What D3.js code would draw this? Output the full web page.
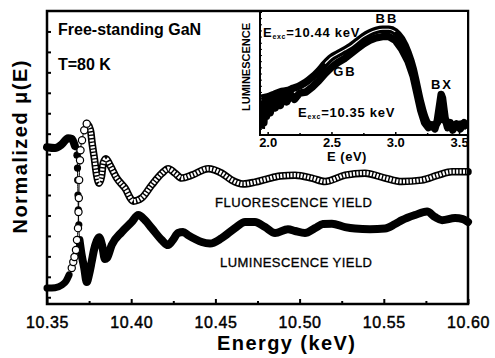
<!DOCTYPE html>
<html>
<head>
<meta charset="utf-8">
<script src="https://cdn.jsdelivr.net/npm/d3@7"></script>
<style>
  body { margin: 0; background: #fff; }
  svg { display: block; }
  text { font-family: "Liberation Sans", Arial, Helvetica, sans-serif; fill: #000; }
</style>
</head>
<body>
<script>
// fluorescence yield [energy keV, normalized mu]
const fyData = [
  [10.3500,0.045],[10.3548,0.047],[10.3589,0.060],[10.3613,0.079],[10.3631,0.109],
  [10.3647,0.143],[10.3656,0.172],[10.3663,0.197],[10.3672,0.231],[10.3678,0.280],
  [10.3684,0.338],[10.3687,0.417],[10.3689,0.485],[10.3691,0.573],[10.3696,0.670],
  [10.3699,0.719],[10.3708,0.768],[10.3721,0.817],[10.3736,0.849],[10.3749,0.837],
  [10.3761,0.803],[10.3767,0.759],[10.3781,0.681],[10.3795,0.597],[10.3809,0.558],
  [10.3824,0.593],[10.3834,0.656],[10.3850,0.678],[10.3874,0.646],[10.3914,0.583],
  [10.3963,0.534],[10.4013,0.470],[10.4062,0.485],[10.4122,0.549],[10.4181,0.605],
  [10.4220,0.629],[10.4260,0.607],[10.4300,0.583],[10.4359,0.597],[10.4458,0.629],
  [10.4537,0.607],[10.4597,0.573],[10.4664,0.554],[10.4735,0.563],[10.4805,0.578],
  [10.4884,0.593],[10.4973,0.597],[10.5072,0.583],[10.5151,0.566],[10.5270,0.597],
  [10.5388,0.607],[10.5507,0.583],[10.5606,0.566],[10.5725,0.573],[10.5822,0.597],
  [10.5905,0.614],[10.6000,0.614]
];

// luminescence yield [energy keV, normalized mu]
const lyData = [
  [10.3500,0.734],[10.3548,0.730],[10.3589,0.749],[10.3625,0.778],[10.3648,0.774],
  [10.3666,0.739],[10.3678,0.695],[10.3681,0.632],[10.3682,0.573],[10.3684,0.500],
  [10.3686,0.427],[10.3689,0.354],[10.3693,0.280],[10.3706,0.206],[10.3721,0.143],
  [10.3736,0.074],[10.3749,0.109],[10.3765,0.172],[10.3779,0.231],[10.3795,0.275],
  [10.3809,0.294],[10.3827,0.255],[10.3844,0.187],[10.3856,0.192],[10.3884,0.255],
  [10.3944,0.319],[10.4003,0.368],[10.4042,0.402],[10.4082,0.377],[10.4122,0.338],
  [10.4181,0.280],[10.4219,0.255],[10.4248,0.280],[10.4278,0.314],[10.4308,0.319],
  [10.4337,0.304],[10.4379,0.285],[10.4419,0.270],[10.4468,0.263],[10.4537,0.289],
  [10.4616,0.338],[10.4676,0.368],[10.4735,0.368],[10.4795,0.343],[10.4854,0.314],
  [10.4931,0.333],[10.4973,0.324],[10.5032,0.314],[10.5091,0.338],[10.5139,0.358],
  [10.5192,0.360],[10.5270,0.343],[10.5329,0.336],[10.5418,0.333],[10.5507,0.336],
  [10.5567,0.358],[10.5608,0.377],[10.5685,0.402],[10.5757,0.419],[10.5804,0.392],
  [10.5846,0.377],[10.5923,0.387],[10.5970,0.382],[10.6000,0.368]
];

// inset: luminescence spectra [photon energy eV, intensity]
const spec1044 = [
  [1.95,0.30],[2.00,0.31],[2.05,0.33],[2.10,0.35],[2.15,0.36],[2.20,0.38],[2.25,0.40],
  [2.30,0.43],[2.35,0.47],[2.40,0.52],[2.45,0.58],[2.50,0.63],[2.55,0.66],[2.60,0.69],
  [2.65,0.72],[2.70,0.76],[2.75,0.80],[2.80,0.83],[2.85,0.85],[2.90,0.86],[2.95,0.86],
  [3.00,0.84],[3.05,0.78],[3.10,0.67],[3.14,0.54],[3.17,0.40],[3.20,0.26],[3.23,0.15],
  [3.26,0.09],[3.30,0.08],[3.33,0.10],[3.36,0.16],[3.38,0.13],[3.42,0.09],[3.47,0.08],
  [3.52,0.09],[3.57,0.08]
];
const spec1035 = [
  [1.95,0.05],[1.96,0.25],[1.97,0.10],[1.98,0.28],[1.99,0.15],[2.00,0.27],[2.02,0.18],
  [2.04,0.30],[2.06,0.22],[2.08,0.31],[2.10,0.24],[2.12,0.33],[2.15,0.27],[2.18,0.33],
  [2.21,0.29],[2.25,0.34],[2.30,0.35],[2.35,0.39],[2.40,0.44],[2.45,0.50],[2.50,0.55],
  [2.55,0.59],[2.60,0.62],[2.65,0.66],[2.70,0.70],[2.75,0.74],[2.80,0.77],[2.85,0.79],
  [2.90,0.80],[2.95,0.80],[3.00,0.77],[3.05,0.70],[3.10,0.60],[3.14,0.48],[3.17,0.34],
  [3.20,0.20],[3.23,0.10],[3.26,0.06],[3.29,0.08],[3.31,0.05],[3.33,0.12],[3.35,0.26],
  [3.36,0.33],[3.37,0.30],[3.38,0.22],[3.39,0.14],[3.41,0.06],[3.43,0.10],[3.45,0.04],
  [3.48,0.09],[3.51,0.05],[3.54,0.10],[3.57,0.06]
];

const xTicks = [10.35, 10.40, 10.45, 10.50, 10.55, 10.60];
const xMinor = [10.375, 10.425, 10.475, 10.525, 10.575];
const yTicks = [0,0.1,0.2,0.3,0.4,0.5,0.6,0.7,0.8,0.9,1.0,1.1,1.2,1.3];
const insetXTicks = [2.0, 2.5, 3.0, 3.5];
const insetXMinor = [2.25, 2.75, 3.25];

const W = 495, H = 358;
const mLeft = 47, mRight = 468, mTop = 11, mBottom = 304;

const svg = d3.select("body").append("svg")
  .attr("width", W).attr("height", H);

const x = d3.scaleLinear().domain([10.35, 10.60]).range([mLeft, mRight]);
const y = d3.scaleLinear().domain([-0.033, 1.4]).range([mBottom, mTop]);

// --- main curves ---
const line = d3.line().curve(d3.curveMonotoneX).x(d => x(d[0])).y(d => y(d[1]));

// luminescence yield: thick solid, thin line + dots on the steep edge
svg.append("path").datum(lyData)
  .attr("fill", "none").attr("stroke", "#000").attr("stroke-width", 1)
  .attr("d", line);
[lyData.filter(d => d[0] <= 10.3666), lyData.filter(d => d[0] >= 10.3693)].forEach(seg => {
  svg.append("path").datum(seg)
    .attr("fill", "none").attr("stroke", "#000").attr("stroke-width", 8)
    .attr("stroke-linejoin", "round").attr("stroke-linecap", "round")
    .attr("d", line);
});
svg.selectAll(".lydot")
  .data(lyData.filter(d => d[0] > 10.3666 && d[0] < 10.3693))
  .enter().append("circle")
  .attr("cx", d => x(d[0])).attr("cy", d => y(d[1])).attr("r", 3.6)
  .attr("fill", "#000");

// fluorescence yield: open circle chain
svg.append("path").datum(fyData)
  .attr("fill", "none").attr("stroke", "#000").attr("stroke-width", 1)
  .attr("d", line);
svg.append("path").datum(fyData.filter(d => d[0] <= 10.3631))
  .attr("fill", "none").attr("stroke", "#000").attr("stroke-width", 7)
  .attr("stroke-linejoin", "round").attr("stroke-linecap", "round")
  .attr("d", line);
const fyPost = fyData.filter(d => d[0] >= 10.3736);
svg.append("path").datum(fyPost)
  .attr("fill", "none").attr("stroke", "#000").attr("stroke-width", 7.5)
  .attr("stroke-linejoin", "round").attr("stroke-linecap", "round")
  .attr("d", line);
svg.append("path").datum(fyPost)
  .attr("fill", "none").attr("stroke", "#fff").attr("stroke-width", 4.2)
  .attr("stroke-dasharray", "2,1.4")
  .attr("stroke-linejoin", "round")
  .attr("d", line);
svg.selectAll(".fydot")
  .data(fyData.filter(d => d[0] > 10.3631 && d[0] <= 10.3736))
  .enter().append("circle")
  .attr("cx", d => x(d[0])).attr("cy", d => y(d[1])).attr("r", 3.6)
  .attr("fill", "#fff").attr("stroke", "#000").attr("stroke-width", 1.2);

// --- axes ---
svg.append("g")
  .attr("transform", "translate(0," + mBottom + ")")
  .call(d3.axisBottom(x).tickValues(xMinor).tickSize(-3).tickFormat(""))
  .call(g => g.select(".domain").remove())
  .call(g => g.selectAll("line").attr("stroke-width", 2));

const xAxis = svg.append("g")
  .attr("transform", "translate(0," + mBottom + ")")
  .call(d3.axisBottom(x).tickValues(xTicks).tickSize(-5).tickPadding(9)
    .tickFormat(d3.format(".2f")));
xAxis.select(".domain").remove();
xAxis.selectAll("line").attr("stroke-width", 2);
xAxis.selectAll("text")
  .style("font-size", "16px").attr("letter-spacing", "0.6px")
  .attr("stroke", "#000").attr("stroke-width", 0.45)
  .attr("dy", "0.95em");

const yAxis = svg.append("g")
  .attr("transform", "translate(" + mLeft + ",0)")
  .call(d3.axisLeft(y).tickValues(yTicks).tickSize(-4).tickFormat(""));
yAxis.select(".domain").remove();
yAxis.selectAll("line").attr("stroke-width", 2);

// frame
svg.append("rect")
  .attr("x", mLeft).attr("y", mTop)
  .attr("width", mRight - mLeft).attr("height", mBottom - mTop)
  .attr("fill", "none").attr("stroke", "#000").attr("stroke-width", 2.5);

// axis titles
svg.append("text")
  .attr("x", 286).attr("y", 350)
  .attr("text-anchor", "middle")
  .style("font-size", "20px").style("font-weight", "bold")
  .attr("textLength", 138).attr("lengthAdjust", "spacing")
  .text("Energy (keV)");

svg.append("text")
  .attr("transform", "translate(27,147) rotate(-90)")
  .attr("text-anchor", "middle")
  .style("font-size", "20px").style("font-weight", "bold")
  .attr("textLength", 173).attr("lengthAdjust", "spacing")
  .text("Normalized \u03bc(E)");

// annotations
svg.append("text").attr("x", 58).attr("y", 35)
  .style("font-size", "16px").style("font-weight", "bold")
  .text("Free-standing GaN");
svg.append("text").attr("x", 58).attr("y", 70)
  .style("font-size", "16px").style("font-weight", "bold")
  .text("T=80 K");
svg.append("text").attr("x", 215).attr("y", 207)
  .style("font-size", "13px")
  .attr("stroke", "#000").attr("stroke-width", 0.3)
  .attr("textLength", 157).attr("lengthAdjust", "spacing")
  .text("FLUORESCENCE YIELD");
svg.append("text").attr("x", 220).attr("y", 267)
  .style("font-size", "13px")
  .attr("stroke", "#000").attr("stroke-width", 0.3)
  .attr("textLength", 152).attr("lengthAdjust", "spacing")
  .text("LUMINESCENCE YIELD");

// --- inset ---
const iL = 260, iR = 468, iT = 11, iB = 135;
const ix = d3.scaleLinear().domain([1.94, 3.57]).range([iL, iR]);
const iy = d3.scaleLinear().domain([0, 1]).range([iB, iT + 1]);
const inset = svg.append("g");

inset.append("rect")
  .attr("x", iL).attr("y", iT).attr("width", iR - iL).attr("height", iB - iT)
  .attr("fill", "#fff");

svg.append("clipPath").attr("id", "insetClip")
  .append("rect").attr("x", iL).attr("y", iT).attr("width", iR - iL).attr("height", iB - iT);

const iline = d3.line().x(d => ix(d[0])).y(d => iy(d[1]));
const ilineSmooth = d3.line().curve(d3.curveMonotoneX).x(d => ix(d[0])).y(d => iy(d[1]));
const curves = inset.append("g").attr("clip-path", "url(#insetClip)");
curves.append("path").datum(spec1035)
  .attr("fill", "none").attr("stroke", "#000").attr("stroke-width", 7.5)
  .attr("stroke-linejoin", "round").attr("d", iline);
curves.append("path").datum(spec1044)
  .attr("fill", "none").attr("stroke", "#000").attr("stroke-width", 7.5)
  .attr("stroke-linejoin", "round").attr("d", ilineSmooth);
curves.append("path").datum(spec1044.filter(d => d[0] >= 2.45 && d[0] <= 3.02))
  .attr("fill", "none").attr("stroke", "#fff").attr("stroke-width", 1.1)
  .attr("d", ilineSmooth);

const ixAxis = inset.append("g")
  .attr("transform", "translate(0," + iB + ")")
  .call(d3.axisBottom(ix).tickValues(insetXTicks).tickSize(-3).tickPadding(3)
    .tickFormat(d3.format(".1f")));
ixAxis.select(".domain").remove();
ixAxis.selectAll("line").attr("stroke-width", 1.5);
ixAxis.selectAll("text")
  .style("font-size", "13px").style("font-weight", "bold");
inset.append("g")
  .attr("transform", "translate(0," + iB + ")")
  .call(d3.axisBottom(ix).tickValues(insetXMinor).tickSize(-2).tickFormat(""))
  .call(g => g.select(".domain").remove())
  .call(g => g.selectAll("line").attr("stroke-width", 1.5));

const iyAxis = inset.append("g")
  .attr("transform", "translate(" + iL + ",0)")
  .call(d3.axisLeft(iy).tickValues(d3.range(0, 1.001, 0.05)).tickSize(-2).tickFormat(""));
iyAxis.select(".domain").remove();
iyAxis.selectAll("line").attr("stroke-width", 1);

inset.append("rect")
  .attr("x", iL).attr("y", iT).attr("width", iR - iL).attr("height", iB - iT)
  .attr("fill", "none").attr("stroke", "#000").attr("stroke-width", 2);

inset.append("text")
  .attr("x", 347).attr("y", 161).attr("text-anchor", "middle")
  .style("font-size", "13px").style("font-weight", "bold")
  .attr("letter-spacing", "0.5px")
  .text("E (eV)");
inset.append("text")
  .attr("transform", "translate(250,67) rotate(-90)")
  .attr("text-anchor", "middle")
  .style("font-size", "11px").style("font-weight", "bold")
  .text("LUMINESCENCE");

function excLabel(px, py, val) {
  const t = inset.append("text").attr("x", px).attr("y", py)
    .style("font-size", "13px").style("font-weight", "bold")
    .attr("letter-spacing", "0.7px");
  t.append("tspan").text("E");
  t.append("tspan").attr("dy", 2).style("font-size", "7px").text("exc");
  t.append("tspan").attr("dy", -2).text("=" + val + " keV");
}
excLabel(263, 37, "10.44");
excLabel(298, 117, "10.35");

[["BB", 387, 23], ["GB", 345, 76], ["BX", 442, 89]].forEach(([s, px, py]) => {
  inset.append("text").attr("x", px).attr("y", py).attr("text-anchor", "middle")
    .style("font-size", "13px").style("font-weight", "bold")
    .attr("letter-spacing", "2px")
    .text(s);
});
</script>
</body>
</html>
